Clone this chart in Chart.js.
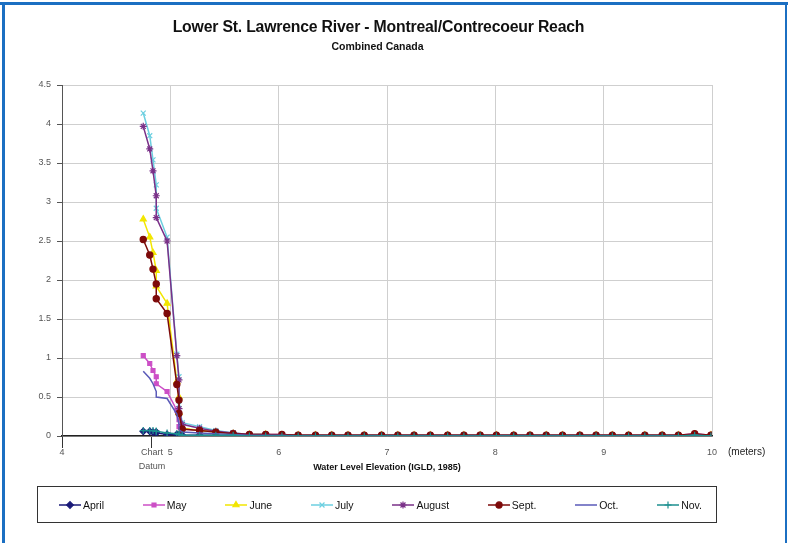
<!DOCTYPE html>
<html>
<head>
<meta charset="utf-8">
<title>Lower St. Lawrence River - Montreal/Contrecoeur Reach</title>
<script src="https://cdn.jsdelivr.net/npm/chart.js@4.4.0/dist/chart.umd.min.js"></script>
<style>
    html, body { margin: 0; padding: 0; background: #fff; }
    #frame {
        position: relative;
        width: 788px;
        height: 543px;
        overflow: hidden;
        font-family: Arial, "Liberation Sans", sans-serif;
        background: #fff;
    }
    #frame .edgeTop { position: absolute; left: 0; top: 2px; width: 788px; height: 3px; background: #1b6fc2; }
    #frame .edgeLeft { position: absolute; left: 2px; top: 2px; width: 3px; height: 541px; background: #1b6fc2; }
    #frame .edgeRight { position: absolute; right: 1px; top: 2px; width: 2px; height: 541px; background: #1b6fc2; }
    #chartTitle {
        position: absolute; left: 0; width: 757px; top: 18px;
        text-align: center; font-weight: bold; font-size: 15.8px; color: #111;
        letter-spacing: -0.2px;
    }
    #chartSubtitle {
        position: absolute; left: 0; width: 755px; top: 40px;
        text-align: center; font-weight: bold; font-size: 10.5px; color: #111;
    }
    #myChart { position: absolute; left: 0; top: 0; }
    #legend {
        position: absolute; left: 37px; top: 486px; width: 680px; height: 37px;
        border: 1px solid #333;
        display: flex; justify-content: space-between; align-items: center;
        box-sizing: border-box; padding-left: 20px; padding-right: 14px;
    }
    .legendItem { display: flex; align-items: center; font-size: 10.5px; color: #111; }
    .legendItem canvas { margin-right: 1px; }
</style>
</head>
<body>
<div id="frame">
    <div class="edgeTop"></div>
    <div class="edgeLeft"></div>
    <div class="edgeRight"></div>
    <canvas id="myChart" width="788" height="543"></canvas>
    <div id="chartTitle">Lower St. Lawrence River - Montreal/Contrecoeur Reach</div>
    <div id="chartSubtitle">Combined Canada</div>
    <div id="legend"></div>
</div>
<script>
// water level elevation (m, IGLD 1985) shared by every month
const elevations = [4.75, 4.81, 4.84, 4.87, 4.87, 4.97, 5.06, 5.08, 5.08, 5.11,
    5.27, 5.42, 5.58, 5.73, 5.88, 6.03, 6.18, 6.34, 6.49, 6.64,
    6.79, 6.95, 7.10, 7.25, 7.40, 7.56, 7.71, 7.86, 8.01, 8.17,
    8.32, 8.47, 8.62, 8.78, 8.93, 9.08, 9.23, 9.38, 9.54, 9.69,
    9.84, 9.99];

const april = [0.06, 0.06, 0.05, 0.05, 0.04, 0.02, 0.02, 0.01, 0.01, 0.01,
    0.01, 0.01, 0, 0, 0, 0, 0, 0, 0, 0,
    0, 0, 0, 0, 0, 0, 0, 0, 0, 0,
    0, 0, 0, 0, 0, 0, 0, 0, 0, 0,
    0.01, 0];
const may = [1.03, 0.93, 0.84, 0.76, 0.67, 0.57, 0.33, 0.21, 0.12, 0.09,
    0.07, 0.05, 0.03, 0.02, 0.02, 0.02, 0.01, 0.01, 0.01, 0.01,
    0.01, 0.01, 0.01, 0.01, 0.01, 0.01, 0.01, 0.01, 0.01, 0.01,
    0.01, 0.01, 0.01, 0.01, 0.01, 0.01, 0.01, 0.01, 0.01, 0.01,
    0.03, 0.01];
const june = [2.78, 2.55, 2.35, 2.12, 1.92, 1.70, 0.70, 0.50, 0.30, 0.10,
    0.07, 0.05, 0.03, 0.02, 0.02, 0.01, 0.01, 0.01, 0.01, 0.01,
    0.01, 0.01, 0.01, 0.01, 0.01, 0.01, 0.01, 0.01, 0.01, 0.01,
    0.01, 0.01, 0.01, 0.01, 0.01, 0.01, 0.01, 0.01, 0.01, 0.01,
    0.02, 0.01];
const july = [4.14, 3.85, 3.54, 3.22, 2.92, 2.55, 1.05, 0.76, 0.40, 0.17,
    0.12, 0.07, 0.04, 0.02, 0.02, 0.01, 0.01, 0.01, 0.01, 0.01,
    0.01, 0.01, 0.01, 0.01, 0.01, 0.01, 0.01, 0.01, 0.01, 0.01,
    0.01, 0.01, 0.01, 0.01, 0.01, 0.01, 0.01, 0.01, 0.01, 0.01,
    0.02, 0.01];
const august = [3.97, 3.68, 3.40, 3.08, 2.80, 2.50, 1.03, 0.72, 0.35, 0.15,
    0.10, 0.06, 0.04, 0.02, 0.02, 0.01, 0.01, 0.01, 0.01, 0.01,
    0.01, 0.01, 0.01, 0.01, 0.01, 0.01, 0.01, 0.01, 0.01, 0.01,
    0.01, 0.01, 0.01, 0.01, 0.01, 0.01, 0.01, 0.01, 0.01, 0.01,
    0.02, 0.01];
const sept = [2.52, 2.32, 2.14, 1.95, 1.76, 1.57, 0.66, 0.46, 0.29, 0.09,
    0.07, 0.05, 0.03, 0.02, 0.02, 0.02, 0.01, 0.01, 0.01, 0.01,
    0.01, 0.01, 0.01, 0.01, 0.01, 0.01, 0.01, 0.01, 0.01, 0.01,
    0.01, 0.01, 0.01, 0.01, 0.01, 0.01, 0.01, 0.01, 0.01, 0.01,
    0.03, 0.01];
const oct = [0.83, 0.74, 0.67, 0.57, 0.50, 0.48, 0.28, 0.15, 0.08, 0.05,
    0.04, 0.03, 0.02, 0.01, 0.01, 0.01, 0, 0, 0, 0,
    0, 0, 0, 0, 0, 0, 0, 0, 0, 0,
    0, 0, 0, 0, 0, 0, 0, 0, 0, 0,
    0.01, 0];
const nov = [0.07, 0.07, 0.07, 0.06, 0.06, 0.04, 0.03, 0.02, 0.02, 0.01,
    0.01, 0.01, 0.01, 0, 0, 0, 0, 0, 0, 0,
    0, 0, 0, 0, 0, 0, 0, 0, 0, 0,
    0, 0, 0, 0, 0, 0, 0, 0, 0, 0,
    0.01, 0];

const monthNames = ['April', 'May', 'June', 'July', 'August', 'Sept.', 'Oct.', 'Nov.'];
const monthValues = [april, may, june, july, august, sept, oct, nov];

const xTickValues = [4, 5, 6, 7, 8, 9, 10];
const yTickStep = 0.5;
const chartDatum = 4.83;

// excel style marker per month
const seriesStyles = [
    { color: '#1a1a78', point: 'rectRot', radius: 3.3 },
    { color: '#cc4fc6', point: 'rect', radius: 2.8 },
    { color: '#f2e600', point: 'triangle', radius: 3.5 },
    { color: '#6ccfe0', point: 'crossRot', radius: 3.5 },
    { color: '#7a3088', point: 'star', radius: 3.5 },
    { color: '#7d0a0a', point: 'circle', radius: 3.1 },
    { color: '#5a5ab8', point: false, radius: 0 },
    { color: '#1d8f8f', point: 'cross', radius: 3.5 }
];

const datasets = monthNames.map((name, i) => {
    const st = seriesStyles[i];
    return {
        label: name,
        data: elevations.map((x, k) => ({ x: x, y: monthValues[i][k] })),
        borderColor: st.color,
        backgroundColor: st.color,
        borderWidth: 1.5,
        pointStyle: st.point,
        pointRadius: st.radius,
        pointBorderColor: st.color,
        pointBackgroundColor: st.color,
        pointBorderWidth: 1.2,
        tension: 0,
        order: monthNames.length - i
    };
});

// the "(meters)" unit to the right of the axis
const axisNotes = {
    id: 'axisNotes',
    afterDraw(chart) {
        const ctx = chart.ctx;
        const xs = chart.scales.x;
        ctx.save();
        ctx.font = '10px Arial, "Liberation Sans", sans-serif';
        ctx.fillStyle = '#222';
        ctx.textAlign = 'left';
        ctx.textBaseline = 'middle';
        ctx.fillText('(meters)', chart.chartArea.right + 16, xs.top + 16);
        ctx.restore();
    }
};

const ctx = document.getElementById('myChart').getContext('2d');
const chart = new Chart(ctx, {
    type: 'line',
    data: { datasets: datasets },
    options: {
        responsive: false,
        animation: false,
        layout: { padding: { top: 85, right: 76, left: 0, bottom: 0 } },
        plugins: {
            legend: { display: false },
            tooltip: { enabled: false }
        },
        scales: {
            x: {
                type: 'linear',
                min: 4,
                max: 10,
                afterBuildTicks: (scale) => {
                    const list = xTickValues.map(v => ({ value: v }));
                    list.splice(1, 0, { value: chartDatum });
                    scale.ticks = list;
                },
                afterFit: (scale) => { scale.height = 107; },
                ticks: {
                    color: '#555',
                    font: { size: 9, lineHeight: 1.6, family: 'Arial, "Liberation Sans", sans-serif' },
                    padding: -3,
                    maxRotation: 0,
                    autoSkip: false,
                    callback: (v) => v === chartDatum ? ['Chart', 'Datum'] : String(v)
                },
                grid: {
                    color: (c) => (c.tick && c.tick.value === chartDatum) ? 'rgba(0,0,0,0)' : '#cfcfcf',
                    tickColor: (c) => (c.tick && (c.tick.value === chartDatum || c.tick.value === 4)) ? '#333' : 'rgba(0,0,0,0)',
                    tickLength: 12,
                    lineWidth: 1
                },
                border: { color: '#222', width: 1.5 },
                title: {
                    display: true,
                    text: 'Water Level Elevation (IGLD, 1985)',
                    color: '#111',
                    font: { size: 9, weight: 'bold', family: 'Arial, "Liberation Sans", sans-serif' },
                    padding: { top: 0, bottom: 70 }
                }
            },
            y: {
                min: 0,
                max: 4.5,
                afterFit: (scale) => { scale.width = 62; },
                ticks: {
                    stepSize: yTickStep,
                    color: '#555',
                    padding: 6,
                    font: { size: 9, family: 'Arial, "Liberation Sans", sans-serif' },
                    callback: (v) => String(v)
                },
                grid: {
                    color: '#cfcfcf',
                    tickColor: '#555',
                    tickLength: 5,
                    lineWidth: 1
                },
                border: { color: '#555', width: 1 }
            }
        }
    },
    plugins: [axisNotes]
});

// legend in a boxed row, line with marker like the spreadsheet
const legendBox = document.getElementById('legend');
monthNames.forEach((name, i) => {
    const st = seriesStyles[i];
    const item = document.createElement('div');
    item.className = 'legendItem';
    const icon = document.createElement('canvas');
    icon.width = 24;
    icon.height = 12;
    const g = icon.getContext('2d');
    g.strokeStyle = st.color;
    g.lineWidth = 1.5;
    g.beginPath();
    g.moveTo(1, 6);
    g.lineTo(23, 6);
    g.stroke();
    if (st.point && Chart.helpers && Chart.helpers.drawPoint) {
        g.fillStyle = st.color;
        g.lineWidth = 1.2;
        Chart.helpers.drawPoint(g, { pointStyle: st.point, radius: st.radius, borderWidth: 1.2 }, 12, 6);
    }
    const label = document.createElement('span');
    label.textContent = name;
    item.appendChild(icon);
    item.appendChild(label);
    legendBox.appendChild(item);
});
</script>
</body>
</html>
